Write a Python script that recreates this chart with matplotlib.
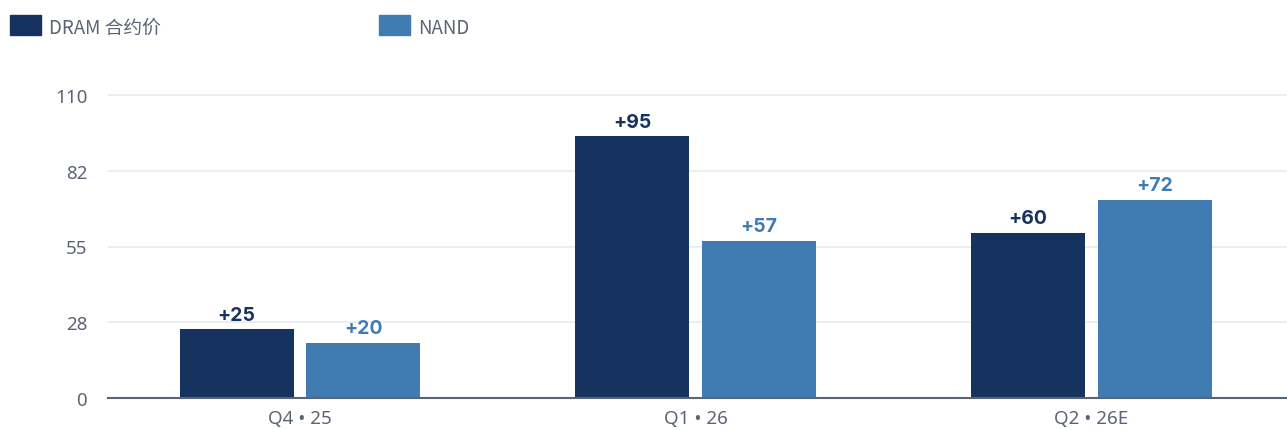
import matplotlib as mpl
import numpy as np
from matplotlib import pyplot as plt
from matplotlib.patches import Rectangle

mpl.use('Agg')
plt.rcParams['font.family'] = ['Noto Sans CJK SC', 'DejaVu Sans']

# data
categories = ['Q4 • 25', 'Q1 • 26', 'Q2 • 26E']
series_names = ['DRAM 合约价', 'NAND']
dram = [25, 95, 60]
nand = [20, 57, 72]
y_ticks = [0, 27.5, 55, 82.5, 110]

DARK = '#16325e'
LIGHT = '#407cb2'
GRAY = '#5b6475'

fig = plt.figure(figsize=(12.87, 4.31), dpi=100, facecolor='white')
W, H = 1287, 431
ax = fig.add_axes([108 / W, (H - 399) / H, (1287 - 108) / W, (399 - 90) / H])

x = np.arange(len(categories))
bw = 0.288
off = 0.16
b1 = ax.bar(x - off, dram, bw, color=DARK, zorder=3)
b2 = ax.bar(x + off, nand, bw, color=LIGHT, zorder=3)

for bars, vals, c in [(b1, dram, DARK), (b2, nand, LIGHT)]:
    for b, v in zip(bars, vals):
        ax.annotate(f'+{v}', (b.get_x() + b.get_width() / 2, v), xytext=(0, 4),
                    textcoords='offset points', ha='center', va='bottom',
                    fontsize=14, fontweight='bold', color=c, family=['Inter', 'DejaVu Sans'])

ax.set_xlim(-0.485, 2.494)
ax.set_ylim(0, 110 * (399 - 90) / (399 - 96))
ax.set_yticks(y_ticks)
ax.set_yticklabels([str(round(t)) for t in y_ticks])
ax.set_xticks(x)
ax.set_xticklabels(categories)
ax.tick_params(axis='both', length=0, labelsize=13.5, labelcolor=GRAY)
ax.tick_params(axis='y', pad=15)
ax.tick_params(axis='x', pad=8)
for lab in ax.get_xticklabels() + ax.get_yticklabels():
    lab.set_family(['Noto Sans', 'DejaVu Sans'])

ax.grid(True, axis='y', color='#e8ecf2', linewidth=1.3, zorder=0)
for s in ['top', 'right', 'left']:
    ax.spines[s].set_visible(False)
ax.spines['bottom'].set_color(GRAY)
ax.spines['bottom'].set_linewidth(1.5)
ax.spines['bottom'].set_zorder(4)

# legend drawn by hand
for (lx, tx), name, c in zip([(10, 49), (379, 418)], series_names, [DARK, LIGHT]):
    fig.patches.append(Rectangle((lx / W, (H - 36) / H), 31 / W, 20 / H,
                                 transform=fig.transFigure, color=c))
    fig.text(tx / W, (H - 28) / H, name, ha='left', va='center', fontsize=13.5, color=GRAY)

fig.savefig('out.png', dpi=100, facecolor='white')
